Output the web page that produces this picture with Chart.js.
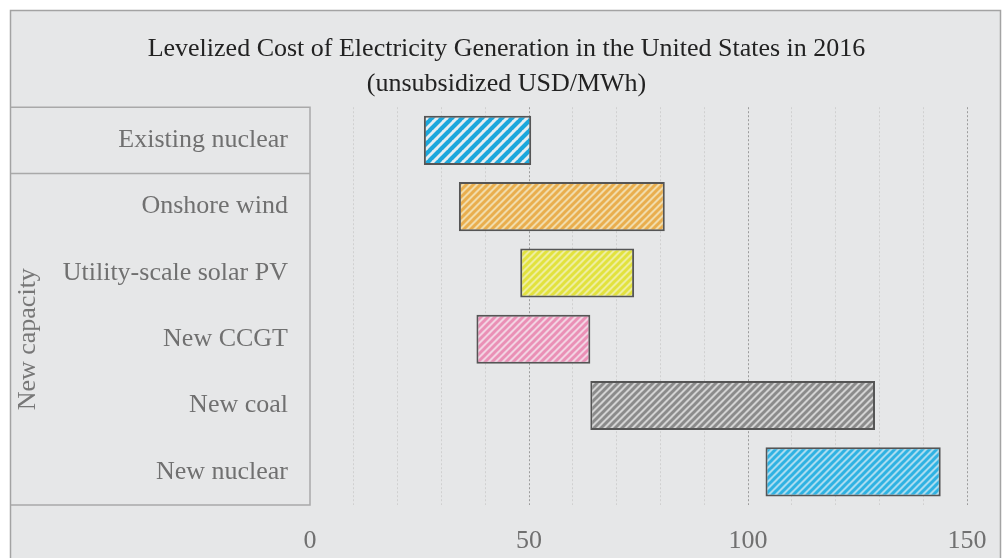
<!DOCTYPE html>
<html>
<head>
<meta charset="utf-8">
<script src="https://cdn.jsdelivr.net/npm/chart.js@4"></script>
<style>
  html, body { margin: 0; padding: 0; background: #ffffff; }
  #wrap { width: 1003px; height: 558px; }
</style>
</head>
<body>
<div id="wrap"><canvas id="myChart" width="1003" height="558"></canvas></div>
<script>
// LCOE ranges, USD/MWh
const categories = ['Existing nuclear', 'Onshore wind', 'Utility-scale solar PV', 'New CCGT', 'New coal', 'New nuclear']
const costLow = [26, 34, 48, 38, 64, 104]
const costHigh = [50.5, 81, 74, 64, 129, 144]
const xTicks = [0, 50, 100, 150]
const groupLabel = 'New capacity'

// stripe colour, background colour, stripe period
const stripeColors = ['#1ba7dc', '#e9ae4e', '#e2e23e', '#ea90b6', '#8b8b8b', '#2fb2e2']
const stripeBg = ['#e5edf1', '#f1dcab', '#eeee9f', '#f2d3e2', '#d3d3d3', '#a9dcf0']
const stripeSize = [10, 7, 7, 7, 7, 7]

const serif = "'Liberation Serif', 'DejaVu Serif', serif"

function hatch(fg, bg, p){
    const c = document.createElement('canvas')
    c.width = p
    c.height = p
    const g = c.getContext('2d')
    g.fillStyle = bg
    g.fillRect(0, 0, p, p)
    g.strokeStyle = fg
    g.lineWidth = p * 0.42
    g.beginPath()
    for(var k = -1; k <= 1; k++){
        g.moveTo(k * p - 1, p + 1)
        g.lineTo(k * p + p + 1, -1)
    }
    g.stroke()
    return g.createPattern(c, 'repeat')
}

var patterns = []
for(var i = 0; i < categories.length; i++){
    patterns.push(hatch(stripeColors[i], stripeBg[i], stripeSize[i]))
}

var ranges = []
for(var i = 0; i < categories.length; i++){
    ranges.push([costLow[i], costHigh[i]])
}

// grey panel with frame, plus the box around the row labels
const frame = {
    id: 'frame',
    beforeDraw(chart){
        const ctx = chart.ctx
        ctx.save()
        ctx.fillStyle = '#e6e7e8'
        ctx.fillRect(10, 10, 990, 548)
        ctx.strokeStyle = '#a3a3a3'
        ctx.lineWidth = 1.5
        ctx.strokeRect(10.5, 10.5, 990, 560)
        ctx.restore()
    },
    afterDatasetsDraw(chart){
        const ctx = chart.ctx
        const a = chart.chartArea
        const y = chart.scales.y
        const split = (y.getPixelForValue(0) + y.getPixelForValue(1)) / 2
        ctx.save()
        ctx.strokeStyle = '#a9a9a9'
        ctx.lineWidth = 1.5
        ctx.beginPath()
        ctx.moveTo(11, a.top)
        ctx.lineTo(a.left, a.top)
        ctx.lineTo(a.left, a.bottom)
        ctx.lineTo(11, a.bottom)
        ctx.moveTo(11, split)
        ctx.lineTo(a.left, split)
        ctx.stroke()

        ctx.translate(28, (split + a.bottom) / 2)
        ctx.rotate(-Math.PI / 2)
        ctx.fillStyle = '#777777'
        ctx.font = '26px ' + serif
        ctx.textAlign = 'center'
        ctx.textBaseline = 'middle'
        ctx.fillText(groupLabel, 0, 0)
        ctx.restore()
    }
}

const ctx = document.getElementById('myChart')

new Chart(ctx, {
    type: 'bar',
    data: {
        labels: categories,
        datasets: [{
            label: 'LCOE',
            data: ranges,
            backgroundColor: patterns,
            borderColor: '#555555',
            borderWidth: 2,
            borderSkipped: false,
            barPercentage: 0.74,
            categoryPercentage: 1
        }]
    },
    options: {
        indexAxis: 'y',
        responsive: false,
        animation: false,
        layout: {
            padding: { left: 46, right: 36, top: 0, bottom: 0 }
        },
        plugins: {
            legend: { display: false },
            tooltip: { enabled: false },
            title: {
                display: true,
                text: ['Levelized Cost of Electricity Generation in the United States in 2016', '(unsubsidized USD/MWh)'],
                color: '#222222',
                font: { family: serif, size: 26, weight: 'normal', lineHeight: 1.35 },
                padding: { top: 32, bottom: 5 }
            }
        },
        scales: {
            x: {
                min: 0,
                max: 150,
                afterFit(s){
                    s.height = 53
                    s.paddingLeft = 0
                    s.paddingRight = 0
                },
                border: { display: false, dash: [2, 2] },
                grid: {
                    drawTicks: false,
                    lineWidth: 1,
                    color(c){
                        if(c.tick.value == 0) return 'rgba(0,0,0,0)'
                        if(xTicks.includes(c.tick.value)) return '#9c9c9c'
                        return '#d0d0d0'
                    }
                },
                ticks: {
                    stepSize: 10,
                    autoSkip: false,
                    maxRotation: 0,
                    minRotation: 0,
                    padding: 21,
                    color: '#707070',
                    font: { family: serif, size: 26 },
                    callback(v){ return xTicks.includes(v) ? String(v) : '' }
                }
            },
            y: {
                afterFit(s){ s.width = 264 },
                border: { display: false },
                grid: { display: false, drawTicks: false },
                ticks: {
                    padding: 22,
                    color: '#707070',
                    font: { family: serif, size: 26 }
                }
            }
        }
    },
    plugins: [frame]
})
</script>
</body>
</html>
